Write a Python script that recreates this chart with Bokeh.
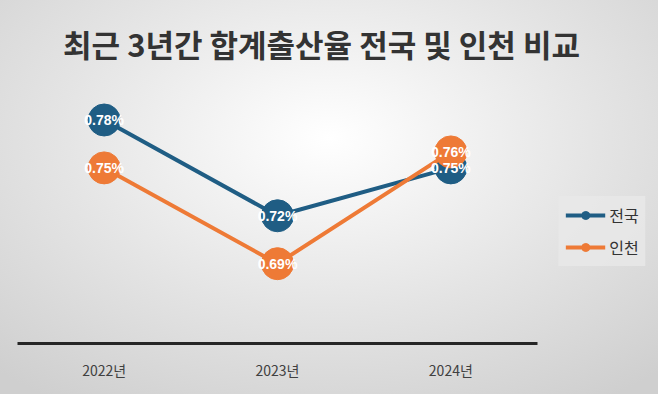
from bokeh.plotting import figure
from bokeh.layouts import row, column
from bokeh.models import Legend, LegendItem, FactorRange, Range1d, Label
from bokeh.core.properties import value
from bokeh.embed import file_html
from bokeh.resources import INLINE

years = ["2022년", "2023년", "2024년"]
national = [0.78, 0.72, 0.75]
incheon = [0.75, 0.69, 0.76]
series_names = ["전국", "인천"]
title_text = "최근 3년간 합계출산율 전국 및 인천 비교"

blue = "#1f5d84"
orange = "#ee7a36"


def clean(fig):
    fig.border_fill_alpha = 0
    fig.background_fill_alpha = 0
    fig.outline_line_color = None
    fig.xgrid.grid_line_color = None
    fig.ygrid.grid_line_color = None
    fig.frame_align = False


# title strip
t = figure(width=658, height=70, x_range=Range1d(0, 658), y_range=Range1d(0, 70),
           title=None, output_backend="svg", toolbar_location=None,
           x_axis_location=None, y_axis_location=None,
           min_border_left=0, min_border_right=0, min_border_top=0, min_border_bottom=0)
clean(t)
t.add_layout(Label(x=321, y=27, text=title_text, text_align="center", text_baseline="middle",
                   text_font="Noto Sans CJK KR", text_font_style="bold",
                   text_font_size="31px", text_color="#333333"))

# main chart
p = figure(width=552, height=324, x_range=FactorRange(*years), y_range=(0.64, 0.811),
           title=None, output_backend="svg", toolbar_location=None,
           min_border_left=17, min_border_right=15, min_border_top=0, min_border_bottom=51)
clean(p)
p.yaxis.visible = False

ax = p.xaxis[0]
ax.axis_line_color = "#262626"
ax.axis_line_width = 3
ax.major_tick_line_color = None
ax.minor_tick_line_color = None
ax.major_label_standoff = 10
ax.major_label_text_font = "Noto Sans CJK KR"
ax.major_label_text_font_size = "14px"
ax.major_label_text_color = "#404040"

p.line(years, national, line_color=blue, line_width=4)
p.scatter(years, national, size=32, fill_color=blue, line_color=blue)
p.line(years, incheon, line_color=orange, line_width=4)
p.scatter(years, incheon, size=32, fill_color=orange, line_color=orange)

for vals in (national, incheon):
    p.text(years, vals, text=[f"{v:.2f}%" for v in vals], text_align="center",
           text_baseline="middle", text_color="white", text_font=value("Liberation Sans"),
           text_font_style="bold", text_font_size="14px")

# legend panel (its renderers lie outside its visible range; only the legend shows)
q = figure(width=106, height=324, x_range=FactorRange(*years), y_range=Range1d(10, 11),
           title=None, output_backend="svg", toolbar_location=None,
           x_axis_location=None, y_axis_location=None,
           min_border_left=0, min_border_right=6, min_border_top=121, min_border_bottom=123)
clean(q)
lb = q.line(years, national, line_color=blue, line_width=4)
sb = q.scatter(years, national, size=32, fill_color=blue, line_color=blue)
lo = q.line(years, incheon, line_color=orange, line_width=4)
so = q.scatter(years, incheon, size=32, fill_color=orange, line_color=orange)

legend = Legend(items=[LegendItem(label=series_names[0], renderers=[lb, sb]),
                       LegendItem(label=series_names[1], renderers=[lo, so])],
                location="center")
legend.background_fill_color = "#e9e9e9"
legend.background_fill_alpha = 0.8
legend.border_line_alpha = 0
legend.label_text_font = "Noto Sans CJK KR"
legend.label_text_font_size = "16px"
legend.label_text_color = "#333333"
legend.glyph_width = 40
legend.glyph_height = 20
legend.label_height = 20
legend.spacing = 8
legend.padding = 7
legend.margin = 0
legend.label_standoff = 4
q.add_layout(legend, "center")

layout = column(t, row(p, q))
layout.styles = {"background": "radial-gradient(ellipse 75% 80% at 50% 35%, #ffffff 0%, #e4e4e4 55%, #cfcfcf 100%)"}

open("out.html", "w").write(file_html(layout, INLINE))
